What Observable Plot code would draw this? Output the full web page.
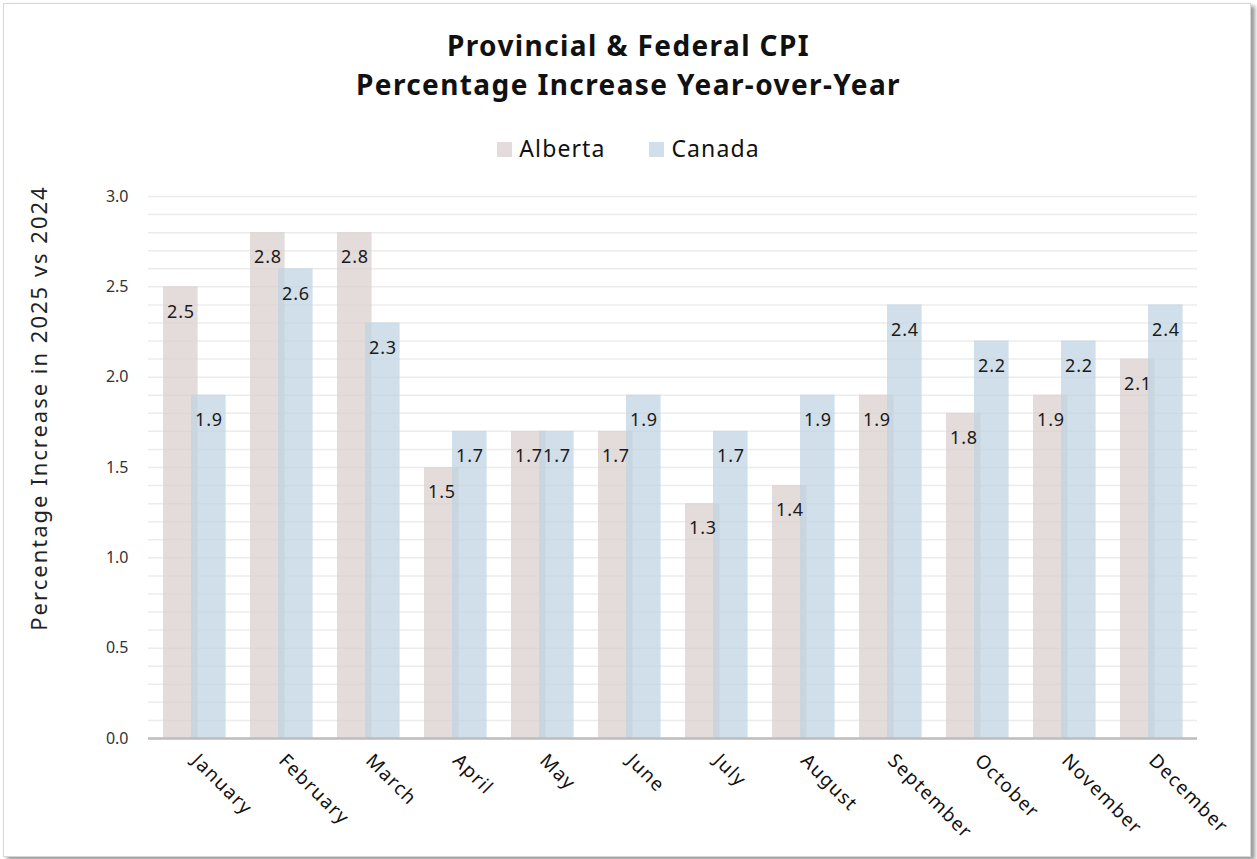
<!DOCTYPE html>
<html>
<head>
<meta charset="utf-8">
<script src="https://cdn.jsdelivr.net/npm/d3@7"></script>
<script src="https://cdn.jsdelivr.net/npm/@observablehq/plot@0.6"></script>
<style>
  html, body { margin: 0; padding: 0; background: #fff; }
  body { width: 1257px; height: 859px; overflow: hidden; font-family: "Noto Sans", sans-serif; }
  #frame { position: absolute; left: 3px; top: 3px; width: 1246px; height: 852px;
           border: 1px solid #d6d6d6; box-shadow: 4px 3px 4px #9a9a9a; background: #fff; }
  #wrap { position: absolute; left: 0; top: 0; width: 1257px; height: 859px; }
  #title { position: absolute; left: 0; width: 1257px; top: 26px; text-align: center;
           font-weight: 700; font-size: 28px; line-height: 39px; color: #111; letter-spacing: 1.4px; }
  #legend { position: absolute; left: 0; width: 1257px; top: 132px; text-align: center;
            font-size: 23px; color: #111; letter-spacing: 1.1px; }
  #legend span.item { display: inline-block; margin: 0 22px; }
  #legend span.sw { display: inline-block; width: 15px; height: 15px; margin-right: 7px; vertical-align: 0px; }
  #ylabel { position: absolute; left: 38px; top: 408px; transform: translate(-50%, -50%) rotate(-90deg);
            white-space: nowrap; font-size: 22px; color: #222; font-weight: 400; letter-spacing: 2px; }
  #chart { position: absolute; left: 0; top: 0; }
  #chart svg g[aria-label="x-axis tick label"] text { letter-spacing: 1.3px; }
  #chart svg g[aria-label="text"] text { letter-spacing: 0.8px; }
</style>
</head>
<body>
<div id="frame"></div>
<div id="wrap">
  <div id="chart"></div>
  <div id="title">Provincial &amp; Federal CPI<br>Percentage Increase Year-over-Year</div>
  <div id="legend"></div>
  <div id="ylabel">Percentage Increase in 2025 vs 2024</div>
</div>
<script>
const months = ["January","February","March","April","May","June","July","August","September","October","November","December"];
const alberta = [2.5, 2.8, 2.8, 1.5, 1.7, 1.7, 1.3, 1.4, 1.9, 1.8, 1.9, 2.1];
const canada  = [1.9, 2.6, 2.3, 1.7, 1.7, 1.9, 1.7, 1.9, 2.4, 2.2, 2.2, 2.4];
const seriesNames = ["Alberta", "Canada"];
const seriesColors = ["#dad0ce", "#c0d4e2"];
const yTicks = [0, 0.5, 1.0, 1.5, 2.0, 2.5, 3.0];
const minorTicks = d3.range(0, 31).map(i => i / 10);

const dataA = months.map((m, i) => ({month: m, value: alberta[i]}));
const dataC = months.map((m, i) => ({month: m, value: canada[i]}));

// legend
const leg = document.getElementById("legend");
seriesNames.forEach((n, i) => {
  const s = document.createElement("span");
  s.className = "item";
  s.innerHTML = `<span class="sw" style="background:${i===0?'#e3dcda':'#d0dfe9'}"></span>${n}`;
  leg.appendChild(s);
});

const chart = Plot.plot({
  width: 1257,
  height: 859,
  marginTop: 196,
  marginBottom: 121,
  marginLeft: 148,
  marginRight: 60,
  style: {fontFamily: "'Noto Sans', sans-serif", background: "transparent", overflow: "visible"},
  x: {type: "band", domain: months, padding: 0, label: null},
  y: {domain: [0, 3], label: null},
  marks: [
    Plot.ruleY(minorTicks, {stroke: "#ececec", strokeWidth: 1.5}),
    Plot.barY(dataA, {x: "month", y: "value", fill: seriesColors[0], fillOpacity: 0.75, insetLeft: 12, insetRight: 40.4}),
    Plot.barY(dataC, {x: "month", y: "value", fill: seriesColors[1], fillOpacity: 0.75, insetLeft: 40, insetRight: 12.4}),
    Plot.text(dataA, {x: "month", y: "value", text: d => d.value.toFixed(1), dx: -14, dy: 25, fontSize: 18, fill: "#1a1a1a"}),
    Plot.text(dataC, {x: "month", y: "value", text: d => d.value.toFixed(1), dx: 14, dy: 25, fontSize: 18, fill: "#1a1a1a"}),
    Plot.ruleY([0], {stroke: "#bdbdbd", strokeWidth: 2.5}),
    Plot.axisY({ticks: yTicks, tickFormat: d => d.toFixed(1), tickSize: 0, tickPadding: 20, fontSize: 16, color: "#333", label: null}),
    Plot.axisX({tickSize: 0, tickPadding: 19, tickRotate: 45, fontSize: 19, color: "#111", label: null})
  ]
});
document.getElementById("chart").appendChild(chart);
</script>
</body>
</html>
